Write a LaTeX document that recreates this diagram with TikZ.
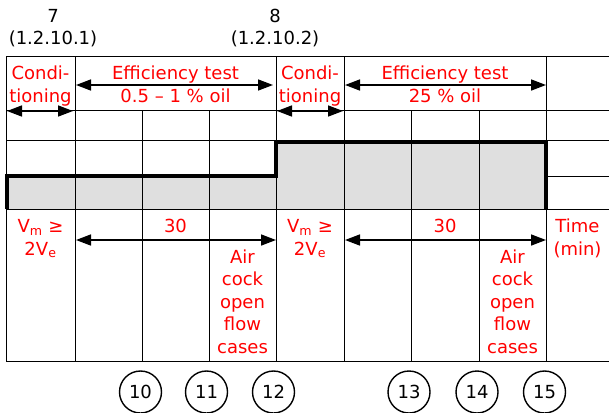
\documentclass[tikz,border=0pt]{standalone}
\usepackage{fontspec}
\setmainfont{DejaVu Sans}
\usetikzlibrary{arrows.meta}
\definecolor{lblred}{RGB}{255,0,0}
\definecolor{stepgray}{RGB}{223,223,223}
\begin{document}
\begin{tikzpicture}[x=1pt,y=-1pt,
    gridline/.style={line width=1pt},
    steprun/.style={line width=4pt,line join=miter},
    span/.style={{Triangle[length=15pt,width=11pt]}-{Triangle[length=15pt,width=11pt]},line width=1.6pt},
    lbl/.style={text=lblred,align=center,inner sep=0pt,anchor=base},
    secref/.style={align=center,inner sep=0pt,anchor=base},
    stepno/.style={draw,circle,line width=1.4pt,minimum size=42pt,inner sep=0pt},
    font=\fontsize{18}{22.5}\selectfont]
  \useasboundingbox (0,0) rectangle (609,412);
  \fill [stepgray] (6,176) -- (276,176) -- (276,141) -- (546,141) -- (546,209) -- (6,209) -- cycle;
  \foreach \y in {56,110,140,209,361}
    \draw [gridline] (6,\y) -- (609,\y);
  \draw [gridline] (546,176) -- (609,176);
  \foreach \x in {6,75,276,344,546}
    \draw [gridline] (\x,56) -- (\x,361);
  \foreach \x in {142,209,411,479}
    \draw [gridline] (\x,110) -- (\x,361);
  \draw [steprun] (7,209) -- (7,176) -- (276,176) -- (276,142) -- (546,142) -- (546,209);
  \node [secref] (secA) at (53,45) {7\\(1.2.10.1)};
  \node [secref] (secB) at (275,45) {8\\(1.2.10.2)};
  \node [lbl] (condA) at (40.5,102) {Condi-\\tioning};
  \node [lbl] (effA) at (175.5,102) {Efficiency test\\0.5 – 1 \% oil};
  \node [lbl] (condB) at (310,102) {Condi-\\tioning};
  \node [lbl] (effB) at (445,102) {Efficiency test\\25 \% oil};
  \node [lbl] (flowA) at (40.5,255) {V\textsubscript{m} ≥\\2V\textsubscript{e}};
  \node [lbl] (durA) at (175.5,232) {30};
  \node [lbl] (airA) at (242.5,353) {Air\\cock\\open\\flow\\cases};
  \node [lbl] (flowB) at (310,255) {V\textsubscript{m} ≥\\2V\textsubscript{e}};
  \node [lbl] (durB) at (445,232) {30};
  \node [lbl] (airB) at (512.5,353) {Air\\cock\\open\\flow\\cases};
  \node [lbl] (time) at (577.5,255) {Time\\(min)};
  \foreach \x/\n in {140.5/10,206.5/11,273.5/12,409/13,477/14,544.5/15}
    \node [stepno] (s\n) at (\x,392) {\n};
  \coordinate (condAl) at (7,111);
  \coordinate (condAr) at (73,111);
  \coordinate (effAl) at (76,85);
  \coordinate (effAr) at (273,85);
  \coordinate (condBl) at (277,111);
  \coordinate (condBr) at (343,111);
  \coordinate (effBl) at (345,85);
  \coordinate (effBr) at (546,85);
  \coordinate (durAl) at (76,240);
  \coordinate (durAr) at (276,240);
  \coordinate (durBl) at (345,240);
  \coordinate (durBr) at (546,240);
  \draw [span] (condAl) -- (condAr);
  \draw [span] (effAl) -- (effAr);
  \draw [span] (condBl) -- (condBr);
  \draw [span] (effBl) -- (effBr);
  \draw [span] (durAl) -- (durAr);
  \draw [span] (durBl) -- (durBr);
\end{tikzpicture}
\end{document}
